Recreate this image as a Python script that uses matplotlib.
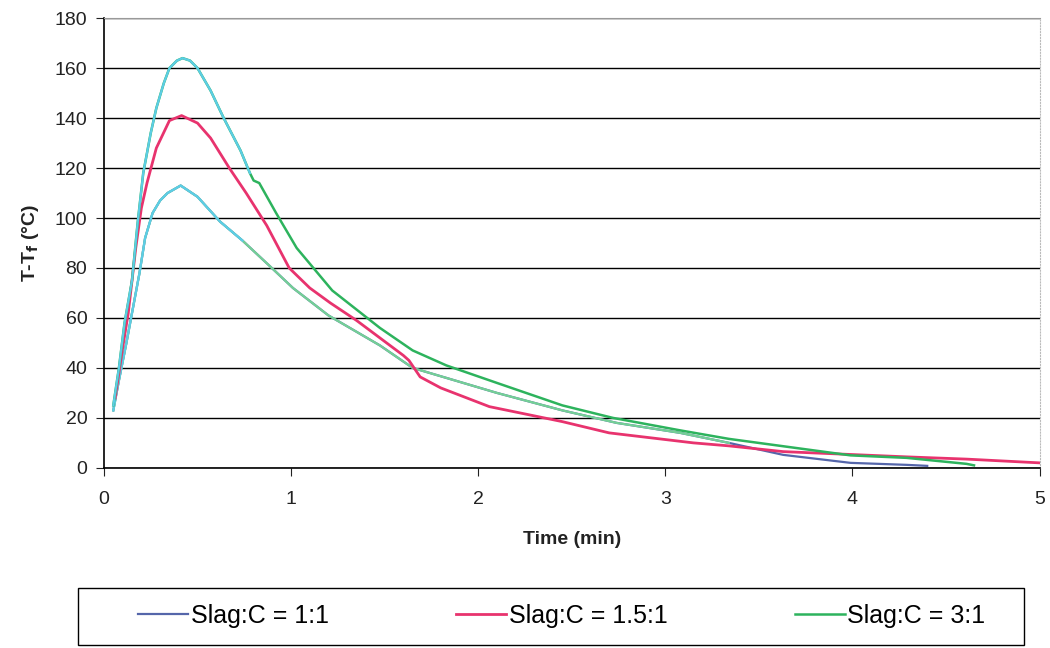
import numpy as np
import matplotlib.pyplot as plt
from matplotlib.patches import Rectangle

plt.rcParams['font.family'] = ['Liberation Sans', 'DejaVu Sans']

# Slag:C = 3:1 (highest peak)
x_31 = [0.05, 0.08, 0.11, 0.15, 0.18, 0.21, 0.25, 0.28, 0.32, 0.35, 0.39, 0.42, 0.46, 0.50,
        0.57, 0.64, 0.73, 0.78, 0.80, 0.83, 0.92, 1.03, 1.22, 1.475, 1.65, 1.83, 2.10, 2.45,
        2.72, 3.08, 3.34, 3.99, 4.29, 4.61, 4.65]
y_31 = [25, 40, 58, 75, 98, 118, 134, 144, 154, 160, 163, 164, 163, 160,
        151, 140, 127, 118, 115, 114, 102, 88, 71, 56, 47, 41, 34, 25,
        20, 15, 11.6, 5, 4, 1.6, 1]

# Slag:C = 1.5:1
x_151 = [0.06, 0.10, 0.13, 0.17, 0.20, 0.23, 0.28, 0.35, 0.415, 0.50, 0.57, 0.67, 0.76, 0.87,
         0.99, 1.10, 1.21, 1.35, 1.475, 1.60, 1.63, 1.69, 1.80, 2.06, 2.45, 2.70, 3.15, 3.34,
         3.63, 4.29, 4.61, 5.0]
y_151 = [28, 48, 62, 88, 104, 114, 128, 139, 141, 138, 132, 120, 110, 97,
         80, 72, 66, 59, 52, 45, 43, 36.4, 32, 24.5, 18.5, 14, 10, 8.8,
         6.5, 4.4, 3.5, 2]

# Slag:C = 1:1 (lowest peak)
x_11 = [0.05, 0.08, 0.12, 0.16, 0.19, 0.22, 0.26, 0.30, 0.34, 0.41, 0.50, 0.62, 0.74, 0.89,
        1.01, 1.20, 1.475, 1.65, 1.83, 2.10, 2.45, 2.74, 3.08, 3.34, 3.63, 3.99, 4.29, 4.40]
y_11 = [23, 35, 50, 66, 78, 92, 102, 107, 110, 113, 108.5, 98.6, 91, 80.5,
        72, 61, 49, 40, 36, 30, 23, 18, 14, 10, 5.2, 2, 1.2, 0.8]

blue = "#5566aa"
pink = "#e8336e"
green = "#2db35d"
cyan = "#5ccde6"
light_green = "#74d096"

fig = plt.figure(figsize=(10.5, 6.48), dpi=100)
ax = fig.add_axes([0.099, 0.278, 0.891, 0.694])

x11, y11 = np.array(x_11), np.array(y_11)
x31, y31 = np.array(x_31), np.array(y_31)

ax.plot(x11, y11, color=blue, lw=1.6, label="Slag:C = 1:1")
m = x11 <= 3.34
ax.plot(x11[m], y11[m], color=light_green, lw=1.6)
m = x11 <= 0.74
ax.plot(x11[m], y11[m], color=cyan, lw=1.6)

ax.plot(x_151, y_151, color=pink, lw=2.0, label="Slag:C = 1.5:1")

ax.plot(x31, y31, color=green, lw=1.8, label="Slag:C = 3:1")
m = x31 <= 0.78
ax.plot(x31[m], y31[m], color=cyan, lw=1.6)

ax.set_xlim(0, 5)
ax.set_ylim(0, 180)
ax.set_xticks(range(0, 6))
ax.set_yticks(range(0, 181, 20))
ax.yaxis.grid(True, color="black", lw=1.0)
ax.set_axisbelow(True)
ax.tick_params(labelsize=14, colors="#222222", length=6)
ax.tick_params(axis="x", pad=11)
ax.tick_params(axis="y", pad=6)

for s in ["left", "bottom"]:
    ax.spines[s].set_color("black")
    ax.spines[s].set_linewidth(1.2)
ax.spines["top"].set_color("#999999")
ax.spines["right"].set_color("#bbbbbb")
ax.spines["right"].set_linestyle(":")

ax.set_xlabel("Time (min)", fontsize=14, fontweight="bold", labelpad=16, color="#222222")
ax.set_ylabel("T-T$_\\mathbf{f}$ (°C)", fontsize=14, fontweight="bold", labelpad=10,
              color="#222222")

# legend box below the plot
fig.patches.append(Rectangle((0.074, 0.005), 0.901, 0.088, transform=fig.transFigure,
                             fill=False, edgecolor="black", lw=1.0))
handles, labels = ax.get_legend_handles_labels()
fig.legend(handles, labels, ncol=3, loc="center", bbox_to_anchor=(0.535, 0.049),
           fontsize=18, frameon=False, handlelength=2.0, handletextpad=0.1,
           columnspacing=5.1)

fig.savefig("out.png", dpi=100)
